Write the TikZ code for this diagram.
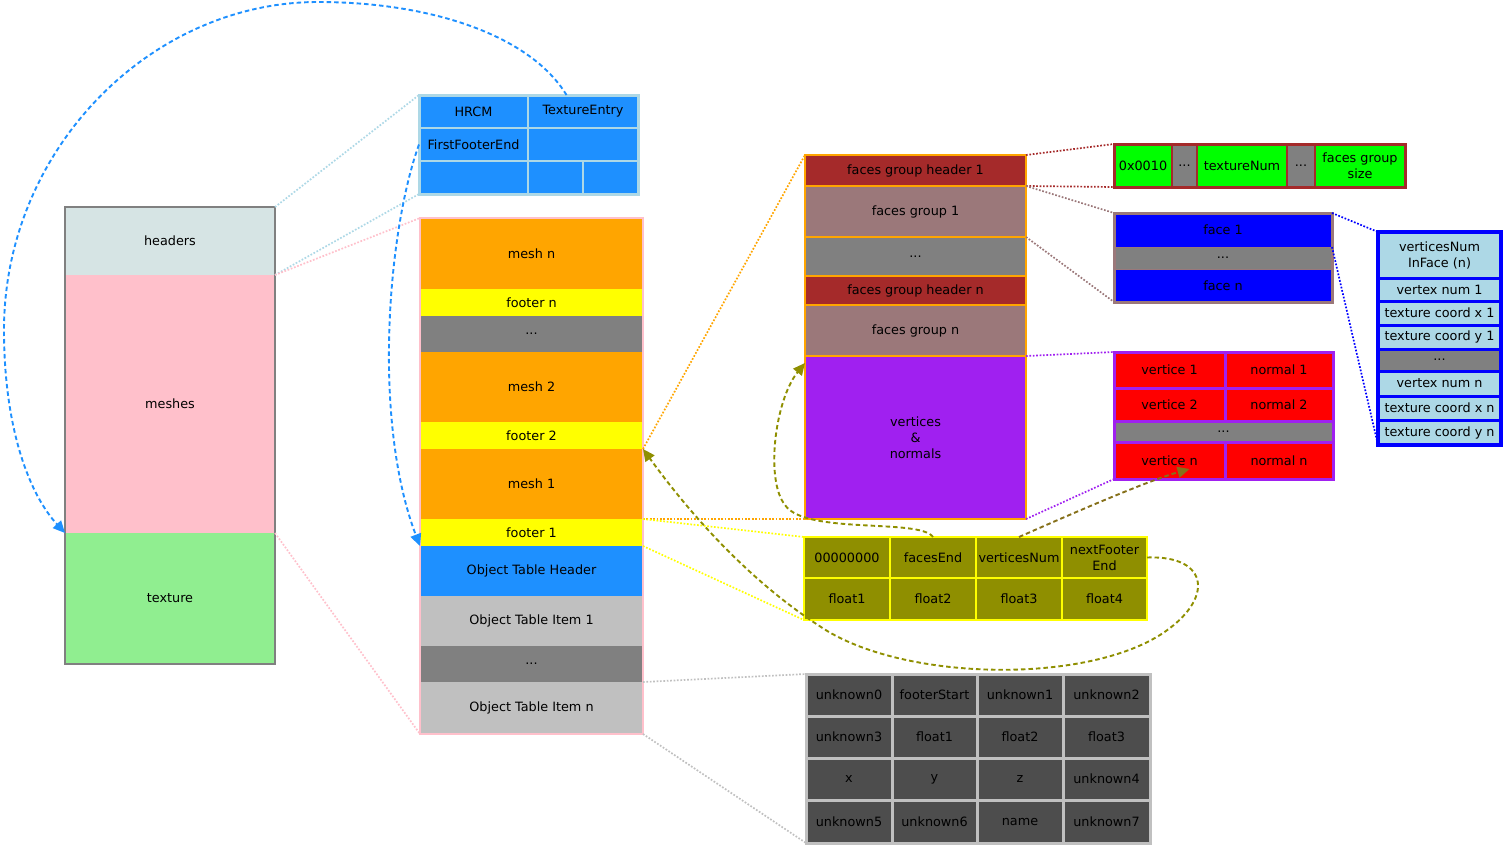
\documentclass[tikz,border=0pt]{standalone}
\usepackage{fontspec}
\setmainfont{DejaVu Sans}
\usepackage{tikz}
\usetikzlibrary{arrows.meta,positioning,calc}
\definecolor{headgray}{RGB}{214,228,228}
\definecolor{meshpink}{RGB}{255,192,203}
\definecolor{texgreen}{RGB}{144,238,144}
\definecolor{dodger}{RGB}{30,144,255}
\definecolor{lblue}{RGB}{173,216,230}
\definecolor{meshorange}{RGB}{255,165,0}
\definecolor{footyellow}{RGB}{255,255,0}
\definecolor{dotsgray}{RGB}{128,128,128}
\definecolor{itemsilver}{RGB}{192,192,192}
\definecolor{hdrbrown}{RGB}{165,42,42}
\definecolor{grpmauve}{RGB}{155,120,122}
\definecolor{vnpurple}{RGB}{160,32,240}
\definecolor{faceblue}{RGB}{0,0,255}
\definecolor{vertred}{RGB}{255,0,0}
\definecolor{codegreen}{RGB}{0,255,0}
\definecolor{footolive}{RGB}{143,143,0}
\definecolor{ptrbrown}{RGB}{134,112,26}
\definecolor{objdark}{RGB}{77,77,77}

\begin{document}
\begin{tikzpicture}[x=1pt, y=-1pt,
    cell/.style   = {rectangle, inner sep=0pt, outer sep=0pt, align=center,
                     font=\fontsize{12.8}{16}\selectfont},
    colrow/.style = {cell, minimum width=210pt},
    midrow/.style = {cell, minimum width=223pt},
    hcell/.style  = {cell, fill=dodger, draw=lblue, line width=2pt, minimum height=33pt},
    fcell/.style  = {cell, minimum width=221pt, draw=meshorange, line width=1.5pt},
    gcell/.style  = {cell, fill=codegreen, draw=hdrbrown, line width=2pt, minimum height=43pt},
    ecell/.style  = {cell, minimum width=218pt, draw=grpmauve, line width=1pt},
    icell/.style  = {cell, fill=lblue, draw=faceblue, line width=3pt, minimum width=123pt},
    vcell/.style  = {cell, fill=vertred, draw=vnpurple, line width=3pt},
    ocell/.style  = {cell, fill=footolive, draw=footyellow, line width=2pt, minimum width=86pt},
    dcell/.style  = {cell, fill=objdark, draw=itemsilver, line width=3pt, minimum height=42pt},
    link/.style   = {line width=1.7pt, dash pattern=on 1.7pt off 1.7pt},
    jump/.style   = {line width=1.9pt, dash pattern=on 4.5pt off 3pt,
                     -{Triangle[length=12pt, width=11pt]}}
  ]
    \useasboundingbox (0,0) rectangle (1504,846);

    \node[colrow, fill=headgray, minimum height=68pt, anchor=north west] (headers) at (65,207) {headers};
    \node[colrow, fill=meshpink, minimum height=258pt, below=0pt of headers] (meshes) {meshes};
    \node[colrow, fill=texgreen, minimum height=131pt, below=0pt of meshes] (texture) {texture};
    \draw[dotsgray, line width=2pt] (headers.north west) rectangle (texture.south east);

    \node[hcell, minimum width=109pt, anchor=north west] (hrcm) at (419,95) {HRCM};
    \node[hcell, minimum width=110pt, right=0pt of hrcm] (texentry) {TextureEntry};
    \node[hcell, minimum width=109pt, below=0pt of hrcm] (firstfe) {FirstFooterEnd};
    \node[hcell, minimum width=110pt, below=0pt of texentry] (hdrmid) {};
    \node[hcell, minimum width=109pt, below=0pt of firstfe] (hdrlow) {};
    \node[hcell, minimum width=55pt, right=0pt of hdrlow] (hdrlowa) {};
    \node[hcell, minimum width=55pt, right=0pt of hdrlowa] (hdrlowb) {};
    \draw[lblue, line width=3pt] (hrcm.north west) rectangle (hdrlowb.south east);

    \node[midrow, fill=meshorange, minimum height=71pt, anchor=north west] (meshn) at (420,218) {mesh n};
    \node[midrow, fill=footyellow, minimum height=27pt, below=0pt of meshn] (footern) {footer n};
    \node[midrow, fill=dotsgray, minimum height=36pt, below=0pt of footern] (meshdots) {...};
    \node[midrow, fill=meshorange, minimum height=70pt, below=0pt of meshdots] (mesh2) {mesh 2};
    \node[midrow, fill=footyellow, minimum height=27pt, below=0pt of mesh2] (footer2) {footer 2};
    \node[midrow, fill=meshorange, minimum height=70pt, below=0pt of footer2] (mesh1) {mesh 1};
    \node[midrow, fill=footyellow, minimum height=27pt, below=0pt of mesh1] (footer1) {footer 1};
    \node[midrow, fill=dodger, minimum height=50pt, below=0pt of footer1] (othead) {Object Table Header};
    \node[midrow, fill=itemsilver, minimum height=50pt, below=0pt of othead] (otitem1) {Object Table Item 1};
    \node[midrow, fill=dotsgray, minimum height=36pt, below=0pt of otitem1] (otdots) {...};
    \node[midrow, fill=itemsilver, minimum height=52pt, below=0pt of otdots] (otitemn) {Object Table Item n};
    \draw[meshpink, line width=2pt] (meshn.north west) rectangle (otitemn.south east);

    \node[fcell, fill=hdrbrown, minimum height=31pt, anchor=north west] (fgh1) at (805,155) {faces group header 1};
    \node[fcell, fill=grpmauve, minimum height=51pt, below=0pt of fgh1] (fg1) {faces group 1};
    \node[fcell, fill=dotsgray, minimum height=39pt, below=0pt of fg1] (fgdots) {...};
    \node[fcell, fill=hdrbrown, minimum height=29pt, below=0pt of fgdots] (fghn) {faces group header n};
    \node[fcell, fill=grpmauve, minimum height=51pt, below=0pt of fghn] (fgn) {faces group n};
    \node[fcell, fill=vnpurple, minimum height=163pt, below=0pt of fgn] (vn) {vertices\\\&\\normals};
    \draw[meshorange, line width=2pt] (fgh1.north west) rectangle (vn.south east);

    \node[gcell, minimum width=58pt, anchor=north west] (gmagic) at (1114,144) {0x0010};
    \node[gcell, fill=dotsgray, minimum width=25pt, right=0pt of gmagic] (gdots1) {...};
    \node[gcell, minimum width=90pt, right=0pt of gdots1] (gtex) {textureNum};
    \node[gcell, fill=dotsgray, minimum width=28pt, right=0pt of gtex] (gdots2) {...};
    \node[gcell, minimum width=90pt, right=0pt of gdots2] (gsize) {faces group\\size};
    \draw[hdrbrown, line width=3pt] (gmagic.north west) rectangle (gsize.south east);

    \node[ecell, fill=faceblue, minimum height=34pt, anchor=north west] (face1) at (1114,213) {face 1};
    \node[ecell, fill=dotsgray, minimum height=22pt, below=0pt of face1] (facedots) {...};
    \node[ecell, fill=faceblue, minimum height=33pt, below=0pt of facedots] (facen) {face n};
    \draw[grpmauve, line width=3pt] (face1.north west) rectangle (facen.south east);

    \node[icell, minimum height=46pt, anchor=north west] (vnumface) at (1378,232) {verticesNum\\InFace (n)};
    \node[icell, minimum height=23pt, below=0pt of vnumface] (vnum1) {vertex num 1};
    \node[icell, minimum height=24pt, below=0pt of vnum1] (tcx1) {texture coord x 1};
    \node[icell, minimum height=24pt, below=0pt of tcx1] (tcy1) {texture coord y 1};
    \node[icell, fill=dotsgray, minimum height=22pt, below=0pt of tcy1] (idots) {...};
    \node[icell, minimum height=25pt, below=0pt of idots] (vnumn) {vertex num n};
    \node[icell, minimum height=24pt, below=0pt of vnumn] (tcxn) {texture coord x n};
    \node[icell, minimum height=25pt, below=0pt of tcxn] (tcyn) {texture coord y n};
    \draw[faceblue, line width=4pt] (vnumface.north west) rectangle (tcyn.south east);

    \node[vcell, minimum width=111pt, minimum height=36pt, anchor=north west] (vert1) at (1114,352) {vertice 1};
    \node[vcell, minimum width=108pt, minimum height=36pt, right=0pt of vert1] (norm1) {normal 1};
    \node[vcell, minimum width=111pt, minimum height=33pt, below=0pt of vert1] (vert2) {vertice 2};
    \node[vcell, minimum width=108pt, minimum height=33pt, below=0pt of norm1] (norm2) {normal 2};
    \node[vcell, fill=dotsgray, minimum width=219pt, minimum height=21pt, anchor=north west] (vdots) at (vert2.south west) {...};
    \node[vcell, minimum width=111pt, minimum height=37pt, anchor=north west] (vertn) at (vdots.south west) {vertice n};
    \node[vcell, minimum width=108pt, minimum height=37pt, right=0pt of vertn] (normn) {normal n};
    \draw[vnpurple, line width=3pt] (vert1.north west) rectangle (normn.south east);

    \node[ocell, minimum height=41pt, anchor=north west] (zeros) at (804,537) {00000000};
    \node[ocell, minimum height=41pt, right=0pt of zeros] (facesend) {facesEnd};
    \node[ocell, minimum height=41pt, right=0pt of facesend] (vertsnum) {verticesNum};
    \node[ocell, minimum height=41pt, minimum width=85pt, right=0pt of vertsnum] (nextfe) {nextFooter\\End};
    \node[ocell, minimum height=42pt, below=0pt of zeros] (fl1) {float1};
    \node[ocell, minimum height=42pt, right=0pt of fl1] (fl2) {float2};
    \node[ocell, minimum height=42pt, right=0pt of fl2] (fl3) {float3};
    \node[ocell, minimum height=42pt, minimum width=85pt, right=0pt of fl3] (fl4) {float4};
    \draw[footyellow, line width=2.5pt] (zeros.north west) rectangle (fl4.south east);

    \node[dcell, minimum width=86pt, anchor=north west] (unk0) at (806,674) {unknown0};
    \node[dcell, minimum width=85pt, right=0pt of unk0] (footstart) {footerStart};
    \node[dcell, minimum width=86pt, right=0pt of footstart] (unk1) {unknown1};
    \node[dcell, minimum width=87pt, right=0pt of unk1] (unk2) {unknown2};
    \node[dcell, minimum width=86pt, below=0pt of unk0] (unk3) {unknown3};
    \node[dcell, minimum width=85pt, right=0pt of unk3] (ofl1) {float1};
    \node[dcell, minimum width=86pt, right=0pt of ofl1] (ofl2) {float2};
    \node[dcell, minimum width=87pt, right=0pt of ofl2] (ofl3) {float3};
    \node[dcell, minimum width=86pt, below=0pt of unk3] (posx) {x};
    \node[dcell, minimum width=85pt, right=0pt of posx] (posy) {y};
    \node[dcell, minimum width=86pt, right=0pt of posy] (posz) {z};
    \node[dcell, minimum width=87pt, right=0pt of posz] (unk4) {unknown4};
    \node[dcell, minimum width=86pt, minimum height=43pt, below=0pt of posx] (unk5) {unknown5};
    \node[dcell, minimum width=85pt, minimum height=43pt, right=0pt of unk5] (unk6) {unknown6};
    \node[dcell, minimum width=86pt, minimum height=43pt, right=0pt of unk6] (objname) {name};
    \node[dcell, minimum width=87pt, minimum height=43pt, right=0pt of objname] (unk7) {unknown7};
    \draw[itemsilver, line width=3pt] (unk0.north west) rectangle (unk7.south east);

    \draw[link, lblue]      (headers.north east) -- (hrcm.north west);
    \draw[link, lblue]      (headers.south east) -- (hdrlow.south west);
    \draw[link, meshpink]   (meshes.north east)  -- (meshn.north west);
    \draw[link, meshpink]   (meshes.south east)  -- (otitemn.south west);
    \draw[link, meshorange] (mesh1.north east)   -- (fgh1.north west);
    \draw[link, meshorange] (mesh1.south east)   -- (vn.south west);
    \draw[link, footyellow] (footer1.north east) -- (zeros.north west);
    \draw[link, footyellow] (footer1.south east) -- (fl1.south west);
    \draw[link, itemsilver] (otitemn.north east) -- (unk0.north west);
    \draw[link, itemsilver] (otitemn.south east) -- (unk5.south west);
    \draw[link, hdrbrown]   (fgh1.north east)    -- (gmagic.north west);
    \draw[link, hdrbrown]   (fgh1.south east)    -- (gmagic.south west);
    \draw[link, grpmauve]   (fg1.north east)     -- (face1.north west);
    \draw[link, grpmauve]   (fg1.south east)     -- (facen.south west);
    \draw[link, vnpurple]   (vn.north east)      -- (vert1.north west);
    \draw[link, vnpurple]   (vn.south east)      -- (vertn.south west);
    \draw[link, faceblue]   (face1.north east)   -- (vnumface.north west);
    \draw[link, faceblue]   (face1.south east)   -- (tcyn.south west);

    \draw[jump, dodger] (texentry.135) .. controls (530,35) and (430,2) .. (318,2)
        .. controls (150,2) and (4,150) .. (4,330)
        .. controls (4,430) and (30,495) .. (texture.north west);
    \draw[jump, dodger] (firstfe.west) .. controls (388,230) and (372,420) .. (footer1.south west);
    \draw[jump, footolive] (facesend.north) .. controls (920,518) and (805,535) .. (785,505)
        .. controls (765,480) and (775,400) .. (vn.146);
    \draw[jump, ptrbrown] (vertsnum.north) .. controls (1080,510) and (1150,480) .. ($(vertn.south)+(20,-10)$);
    \draw[jump, footolive] (nextfe.east) .. controls (1210,555) and (1215,600) .. (1160,635)
        .. controls (1080,685) and (900,680) .. (821,627)
        .. controls (740,575) and (680,500) .. (mesh1.north east);
  \end{tikzpicture}
\end{document}
